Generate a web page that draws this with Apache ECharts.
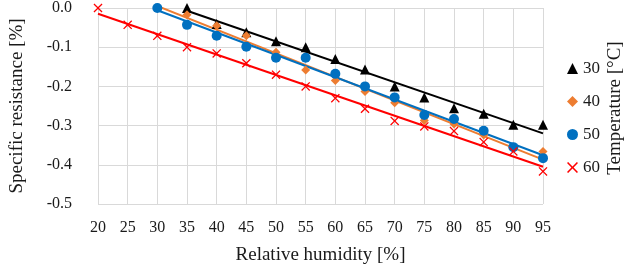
<!DOCTYPE html>
<html>
<head>
<meta charset="utf-8">
<script src="https://cdn.jsdelivr.net/npm/echarts@6.0.0/dist/echarts.min.js"></script>
<style>
  html, body { margin: 0; padding: 0; background: #fff; }
  #chart { width: 630px; height: 270px; }
</style>
</head>
<body>
<div id="chart"></div>
<script>
// relative humidity [%] per temperature series
var rh30 = [35, 40, 45, 50, 55, 60, 65, 70, 75, 80, 85, 90, 95]
var rh40 = [30, 35, 40, 45, 50, 55, 60, 65, 70, 75, 80, 85, 90, 95]
var rh50 = [30, 35, 40, 45, 50, 55, 60, 65, 70, 75, 80, 85, 90, 95]
var rh60 = [20, 25, 30, 35, 40, 45, 50, 55, 60, 65, 70, 75, 80, 85, 90, 95]

// specific resistance change [%]
var res30 = [0.0, -0.041, -0.062, -0.085, -0.100, -0.130, -0.157, -0.200, -0.228, -0.256, -0.270, -0.298, -0.298]
var res40 = [0.0, -0.017, -0.045, -0.071, -0.113, -0.158, -0.185, -0.213, -0.242, -0.287, -0.296, -0.324, -0.355, -0.366]
var res50 = [0.0, -0.043, -0.071, -0.099, -0.127, -0.127, -0.168, -0.200, -0.228, -0.273, -0.283, -0.313, -0.355, -0.383]
var res60 = [0.0, -0.043, -0.071, -0.100, -0.116, -0.141, -0.170, -0.200, -0.230, -0.257, -0.288, -0.302, -0.314, -0.342, -0.366, -0.417]

var seriesNames = ['30', '40', '50', '60']
var colors = ['#000000', '#ED7D31', '#0070C0', '#FF0000']
var xTicks = { min: 20, max: 95, step: 5 }
var yTicks = { min: -0.5, max: 0, step: 0.1 }

var FONT = 'Liberation Serif'
var TEXT = '#1a1a1a'
var GRID = '#d9d9d9'
var CROSS = 'path://M0,1L1,0L5,4L9,0L10,1L6,5L10,9L9,10L5,6L1,10L0,9L4,5Z'

function pairs(xs, ys) {
  return xs.map(function (x, i) { return [x, ys[i]] })
}

// least squares trend line, from first to last humidity
function trend(xs, ys) {
  var n = xs.length
  var mx = xs.reduce(function (a, b) { return a + b }, 0) / n
  var my = ys.reduce(function (a, b) { return a + b }, 0) / n
  var sxy = 0, sxx = 0
  for (var i = 0; i < n; i++) {
    sxy += (xs[i] - mx) * (ys[i] - my)
    sxx += (xs[i] - mx) * (xs[i] - mx)
  }
  var k = sxy / sxx
  var x0 = xs[0], x1 = xs[n - 1]
  return [[x0, my + k * (x0 - mx)], [x1, my + k * (x1 - mx)]]
}

var xs = [rh30, rh40, rh50, rh60]
var ys = [res30, res40, res50, res60]
var symbols = ['triangle', 'diamond', 'circle', CROSS]
var sizes = [10, 9, 10, 9]

var series = []
xs.forEach(function (x, i) {
  series.push({
    name: 'fit' + seriesNames[i],
    type: 'line',
    data: trend(x, ys[i]),
    showSymbol: false,
    symbol: 'none',
    silent: true,
    z: 2,
    lineStyle: { color: colors[i], width: 2 }
  })
})
xs.forEach(function (x, i) {
  series.push({
    name: seriesNames[i],
    type: 'scatter',
    data: pairs(x, ys[i]),
    symbol: symbols[i],
    symbolSize: sizes[i],
    z: 3,
    itemStyle: { color: colors[i], opacity: 1 }
  })
})

var chart = echarts.init(document.getElementById('chart'), null, { renderer: 'canvas' })
var option = {
  animation: false,
  backgroundColor: '#fff',
  grid: {
    left: 98,
    right: 87,
    top: 7,
    bottom: 66
  },
  legend: {
    data: seriesNames,
    orient: 'vertical',
    left: 562,
    top: 55,
    itemWidth: 11,
    itemHeight: 11,
    itemGap: 16,
    textStyle: { fontFamily: FONT, fontSize: 17, color: TEXT }
  },
  xAxis: {
    type: 'value',
    min: xTicks.min,
    max: xTicks.max,
    interval: xTicks.step,
    name: 'Relative humidity [%]',
    nameLocation: 'middle',
    nameGap: 42,
    nameTextStyle: { fontFamily: FONT, fontSize: 19, color: TEXT },
    axisLine: { lineStyle: { color: GRID, width: 1 } },
    axisTick: { show: false },
    axisLabel: { margin: 16, fontFamily: FONT, fontSize: 16, color: TEXT },
    splitLine: { lineStyle: { color: GRID, width: 1 } }
  },
  yAxis: {
    type: 'value',
    min: yTicks.min,
    max: yTicks.max,
    interval: yTicks.step,
    name: 'Specific resistance [%]',
    nameLocation: 'middle',
    nameGap: 71,
    nameTextStyle: { fontFamily: FONT, fontSize: 19, color: TEXT },
    axisLine: { show: true, lineStyle: { color: GRID, width: 1 } },
    axisTick: { show: false },
    axisLabel: {
      margin: 26,
      fontFamily: FONT,
      fontSize: 16,
      color: TEXT,
      formatter: function (v) { return v.toFixed(1) }
    },
    splitLine: { lineStyle: { color: GRID, width: 1 } }
  },
  graphic: [{
    type: 'text',
    x: 615,
    y: 108,
    rotation: Math.PI / 2,
    style: {
      text: 'Temperature [°C]',
      fontFamily: FONT,
      fontSize: 19,
      fill: TEXT,
      align: 'center',
      verticalAlign: 'middle'
    }
  }],
  series: series
}
chart.setOption(option)
</script>
</body>
</html>
